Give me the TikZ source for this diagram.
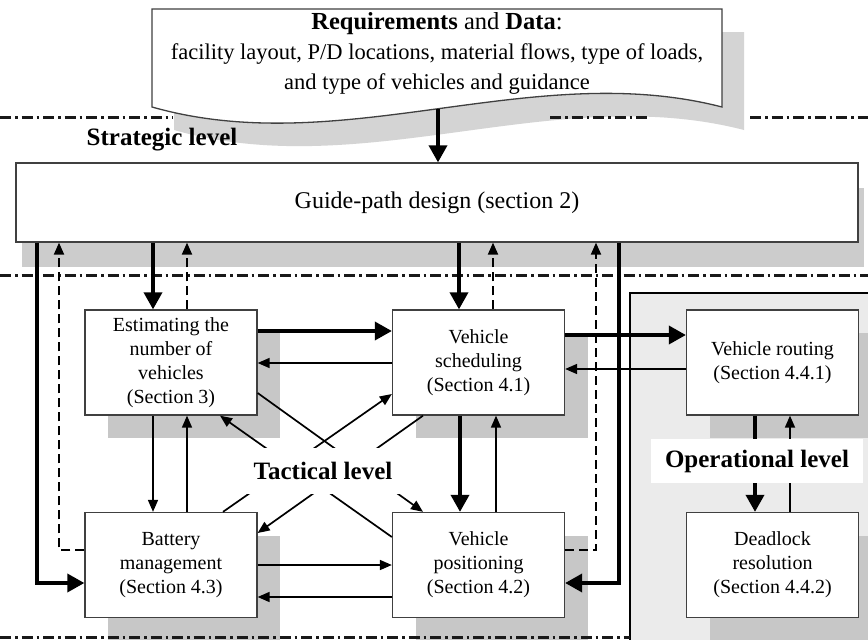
\documentclass[tikz,border=0pt]{standalone}
\usepackage{fontspec}
\setmainfont{Liberation Serif}
\usetikzlibrary{arrows.meta,calc,shadows}
\begin{document}
\begin{tikzpicture}[x=1pt,y=-1pt,
  box/.style={draw=black!75, line width=1.3pt, fill=white, align=center, inner sep=0pt,
    minimum width=172pt, minimum height=105pt, font=\fontsize{20}{24}\selectfont,
    drop shadow={shadow xshift=23pt, shadow yshift=-23pt, fill=black!22, opacity=1}},
  thk/.style={line width=3.6pt, -{Triangle[length=17pt,width=18pt]}},
  thn/.style={line width=1.7pt, -{Triangle[length=12pt,width=10pt]}},
  dsh/.style={line width=2pt, dash pattern=on 9pt off 5pt, -{Triangle[length=12pt,width=10pt]}},
  level/.style={font=\bfseries\fontsize{25}{30}\selectfont, inner sep=0pt},
  dashdot/.style={line width=3pt, black!90, dash pattern=on 11pt off 4pt on 2.5pt off 4pt}
]
\useasboundingbox (0,0) rectangle (868,640);
\fill[white] (0,0) rectangle (868,640);
\clip (0,0) rectangle (868,640);

% requirements document
\fill[black!17, shift={(22,23)}] (152,9) -- (722,9) -- (722,107) .. controls (532,58) and (342,161) .. (152,107) -- cycle;
\draw[dashdot] (0,117) -- (173,117);
\draw[dashdot] (550,117) -- (647,117);
\draw[dashdot] (750,117) -- (868,117);
\draw[fill=white, draw=black!75, line width=1.3pt] (152,9) -- (722,9) -- (722,107) .. controls (532,58) and (342,161) .. (152,107) -- cycle;
\node (doc) [align=center, inner sep=0pt, font=\fontsize{22.5}{30}\selectfont] at (437,53)
  {{\fontsize{24.5}{30}\selectfont\textbf{Requirements} and \textbf{Data}:}\\
   facility layout, P/D locations, material flows, type of loads,\\
   and type of vehicles and guidance};
\coordinate (docb) at (438,109);

\node (strat) [level] at (162,140) {Strategic level};

% guide-path
\node (gp) [draw=black!75, line width=1.3pt, fill=white, inner sep=0pt, minimum width=842pt, minimum height=79pt,
  font=\fontsize{24}{28}\selectfont,
  drop shadow={shadow xshift=6pt, shadow yshift=-25pt, fill=black!20, opacity=1}] at (437,202.5)
  {Guide-path design (section 2)};

\draw[dashdot] (0,275) -- (868,275);

% operational panel
\fill[black!8] (630,293) rectangle (880,660);
\draw[line width=1.3pt] (630,660) -- (630,293) -- (880,293);

% boxes
\node (est) [box] at (171,362.5) {Estimating the\\number of\\vehicles\\(Section 3)};
\node (sch) [box] at (478.5,362.5) {Vehicle\\scheduling\\(Section 4.1)};
\node (rou) [box] at (772.5,362.5) {Vehicle routing\\(Section 4.4.1)};
\node (bat) [box] at (171,565) {Battery\\management\\(Section 4.3)};
\node (pos) [box] at (478.5,565) {Vehicle\\positioning\\(Section 4.2)};
\node (dead) [box] at (772.5,565) {Deadlock\\resolution\\(Section 4.4.2)};

\draw[dashdot] (0,637) -- (630,637);

% helper coordinates
\coordinate (estA) at ($(est.north)+(-18,0)$);
\coordinate (estB) at ($(est.north)+(16,0)$);
\coordinate (schA) at ($(sch.north)+(-19.5,0)$);
\coordinate (schB) at ($(sch.north)+(14.5,0)$);
\coordinate (batA) at ($(bat.west)+(0,-15)$);
\coordinate (batB) at ($(bat.west)+(0,18)$);
\coordinate (posA) at ($(pos.east)+(0,-15)$);
\coordinate (posB) at ($(pos.east)+(0,18)$);
\coordinate (xL1) at (37,0);
\coordinate (xL2) at (59,0);
\coordinate (xR1) at (596,0);
\coordinate (xR2) at (619,0);

% strategic connections
\draw[thk] (docb) -- (docb |- gp.north);
\draw[thk] (estA |- gp.south) -- (estA);
\draw[dsh] (estB) -- (estB |- gp.south);
\draw[thk] (schA |- gp.south) -- (schA);
\draw[dsh] (schB) -- (schB |- gp.south);
\draw[thk] (xL1 |- gp.south) -- (xL1 |- batB) -- (batB);
\draw[dsh] (batA) -- (xL2 |- batA) -- (xL2 |- gp.south);
\draw[dsh] (posA) -- (xR1 |- posA) -- (xR1 |- gp.south);
\draw[thk] (xR2 |- gp.south) -- (xR2 |- posB) -- (posB);

% horizontal
\draw[thk] ($(est.east)+(0,-31.5)$) -- ($(sch.west)+(0,-31.5)$);
\draw[thn] ($(sch.west)+(0,0.5)$) -- ($(est.east)+(0,0.5)$);
\draw[thk] ($(sch.east)+(0,-27.5)$) -- ($(rou.west)+(0,-27.5)$);
\draw[thn] ($(rou.west)+(0,6.5)$) -- ($(sch.east)+(0,6.5)$);
\draw[thn] (bat.east) -- (pos.west);
\draw[thn] ($(pos.west)+(0,32)$) -- ($(bat.east)+(0,32)$);

% vertical
\draw[thn] ($(est.south)+(-18,0)$) -- ($(bat.north)+(-18,0)$);
\draw[thn] ($(bat.north)+(16,0)$) -- ($(est.south)+(16,0)$);
\draw[thk] ($(sch.south)+(-18.5,0)$) -- ($(pos.north)+(-18.5,0)$);
\draw[thn] ($(pos.north)+(17.5,0)$) -- ($(sch.south)+(17.5,0)$);
\draw[thk] ($(rou.south)+(-17.5,0)$) -- ($(dead.north)+(-17.5,0)$);
\draw[thn] ($(dead.north)+(17.5,0)$) -- ($(rou.south)+(17.5,0)$);

% diagonals
\draw[thn] ($(est.east)+(0,30.5)$) -- ($(pos.north)+(-55.5,0)$);
\draw[thn] ($(pos.west)+(0,-28)$) -- ($(est.south)+(49,0)$);
\draw[thn] ($(bat.north)+(52,0)$) -- ($(sch.west)+(0,31.5)$);
\draw[thn] ($(sch.south)+(-55.5,0)$) -- ($(bat.east)+(0,-32)$);

% level labels
\node (tact) [level, fill=white, minimum width=157pt, minimum height=46pt] at (323,471) {Tactical level};
\node (oper) [level, fill=white, minimum width=212pt, minimum height=44pt] at (757,461) {Operational level};
\end{tikzpicture}
\end{document}
